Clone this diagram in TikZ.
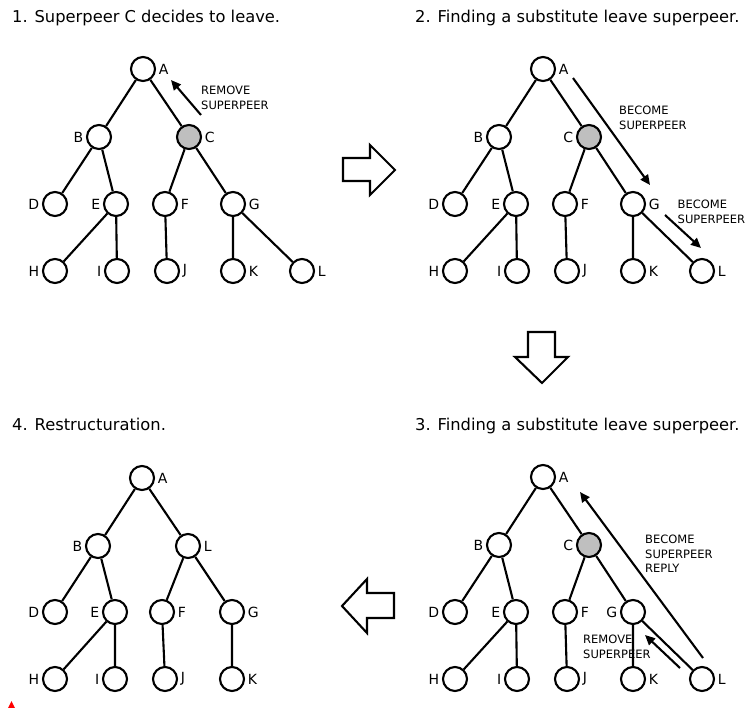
\documentclass[tikz,border=0pt]{standalone}
\usepackage{fontspec}
\setmainfont{DejaVu Sans}
\usetikzlibrary{arrows.meta}
\tikzset{
 peer/.style={circle, draw, line width=2.1pt, minimum size=24pt, inner sep=0pt, fill=white},
 gone/.style={peer, fill=black!25},
 every label/.style={font=\fontsize{14}{16}\selectfont, inner sep=1.5pt},
 label distance=1pt,
 link/.style={line width=2.1pt},
 msg/.style={line width=2.1pt, -{Triangle[length=10pt,width=9pt]}},
 note/.style={font=\fontsize{11.5}{14.5}\selectfont, align=left, anchor=west, inner sep=0pt},
 heading/.style={font=\fontsize{16.3}{19}\selectfont, anchor=base west, inner sep=0pt},
 bigarrow/.style={draw, line width=2.1pt, fill=white, line join=miter},
}
\begin{document}
\begin{tikzpicture}[x={(1pt,0)}, y={(0,-1pt)}]
\useasboundingbox (0,0) rectangle (746,708);

% ---------- Panel 1 ----------
\node[heading] (t1) at (12,23) {1. Superpeer C decides to leave.};
\begin{scope}
\node[peer,label=right:A] (a1) at (143,69) {};
\node[peer,label=left:B] (b1) at (99,137) {};
\node[gone,label=right:C] (c1) at (189,137) {};
\node[peer,label=left:D] (d1) at (55,204) {};
\node[peer,label=left:E] (e1) at (116,204) {};
\node[peer,label=right:F] (f1) at (165,204) {};
\node[peer,label=right:G] (g1) at (233,204) {};
\node[peer,label=left:H] (h1) at (55,271) {};
\node[peer,label=left:I] (i1) at (117,271) {};
\node[peer,label=right:J] (j1) at (167,271) {};
\node[peer,label=right:K] (k1) at (233,271) {};
\node[peer,label=right:L] (l1) at (302,271) {};
\draw[link] (a1)--(b1) (a1)--(c1) (b1)--(d1) (b1)--(e1) (c1)--(f1) (c1)--(g1)
            (e1)--(h1) (e1)--(i1) (f1)--(j1) (g1)--(k1) (g1)--(l1);
\coordinate (m1s) at (201,115);
\coordinate (m1e) at (171,80);
\draw[msg] (m1s) -- (m1e);
\node[note] (n1) at (201,98) {REMOVE\\SUPERPEER};
\end{scope}

% ---------- Panel 2 ----------
\node[heading] (t2) at (415,23) {2. Finding a substitute leave superpeer.};
\begin{scope}[shift={(400,0)}]
\node[peer,label=right:A] (a2) at (143,69) {};
\node[peer,label=left:B] (b2) at (99,137) {};
\node[gone,label=left:C] (c2) at (189,137) {};
\node[peer,label=left:D] (d2) at (55,204) {};
\node[peer,label=left:E] (e2) at (116,204) {};
\node[peer,label=right:F] (f2) at (165,204) {};
\node[peer,label=right:G] (g2) at (233,204) {};
\node[peer,label=left:H] (h2) at (55,271) {};
\node[peer,label=left:I] (i2) at (117,271) {};
\node[peer,label=right:J] (j2) at (167,271) {};
\node[peer,label=right:K] (k2) at (233,271) {};
\node[peer,label=right:L] (l2) at (302,271) {};
\draw[link] (a2)--(b2) (a2)--(c2) (b2)--(d2) (b2)--(e2) (c2)--(f2) (c2)--(g2)
            (e2)--(h2) (e2)--(i2) (f2)--(j2) (g2)--(k2) (g2)--(l2);
\coordinate (m2s) at (173,78);
\coordinate (m2e) at (250,185);
\draw[msg] (m2s) -- (m2e);
\node[note] (n2) at (219,118) {BECOME\\SUPERPEER};
\coordinate (m3s) at (265,215);
\coordinate (m3e) at (301,248);
\draw[msg] (m3s) -- (m3e);
\node[note] (n3) at (277.5,212) {BECOME\\SUPERPEER};
\end{scope}

% ---------- Panel 3 ----------
\node[heading] (t3) at (415,430) {3. Finding a substitute leave superpeer.};
\begin{scope}[shift={(400,408)}]
\node[peer,label=right:A] (a3) at (143,69) {};
\node[peer,label=left:B] (b3) at (99,137) {};
\node[gone,label=left:C] (c3) at (189,137) {};
\node[peer,label=left:D] (d3) at (55,204) {};
\node[peer,label=left:E] (e3) at (116,204) {};
\node[peer,label=right:F] (f3) at (165,204) {};
\node[peer,label=left:G] (g3) at (233,204) {};
\node[peer,label=left:H] (h3) at (55,271) {};
\node[peer,label=left:I] (i3) at (117,271) {};
\node[peer,label=right:J] (j3) at (167,271) {};
\node[peer,label=right:K] (k3) at (233,271) {};
\node[peer,label=right:L] (l3) at (302,271) {};
\draw[link] (a3)--(b3) (a3)--(c3) (b3)--(d3) (b3)--(e3) (c3)--(f3) (c3)--(g3)
            (e3)--(h3) (e3)--(i3) (f3)--(j3) (g3)--(k3) (g3)--(l3);
\coordinate (m4s) at (303,250);
\coordinate (m4e) at (180,84);
\draw[msg] (m4s) -- (m4e);
\node[note] (n4) at (245,146) {BECOME\\SUPERPEER\\REPLY};
\coordinate (m5s) at (280,260);
\coordinate (m5e) at (245,227);
\draw[msg] (m5s) -- (m5e);
\node[note] (n5) at (183,239) {REMOVE\\SUPERPEER};
\end{scope}

% ---------- Panel 4 ----------
\node[heading] (t4) at (12,430) {4. Restructuration.};
\begin{scope}[shift={(0,408)}]
\node[peer,label=right:A] (a4) at (142,70) {};
\node[peer,label=left:B] (b4) at (98,138) {};
\node[peer,label=right:L] (l4) at (188,138) {};
\node[peer,label=left:D] (d4) at (55,204) {};
\node[peer,label=left:E] (e4) at (115,204) {};
\node[peer,label=right:F] (f4) at (162,204) {};
\node[peer,label=right:G] (g4) at (232,204) {};
\node[peer,label=left:H] (h4) at (55,271) {};
\node[peer,label=left:I] (i4) at (115,271) {};
\node[peer,label=right:J] (j4) at (165,271) {};
\node[peer,label=right:K] (k4) at (232,271) {};
\draw[link] (a4)--(b4) (a4)--(l4) (b4)--(d4) (b4)--(e4) (l4)--(f4) (l4)--(g4)
            (e4)--(h4) (e4)--(i4) (f4)--(j4) (g4)--(k4);
\end{scope}

% ---------- Big transition arrows ----------
\draw[bigarrow] (343,158) -- (370,158) -- (370,145) -- (395,170) -- (370,195) -- (370,181) -- (343,181) -- cycle;
\draw[bigarrow] (528,332) -- (555,332) -- (555,357) -- (568,357) -- (542,383) -- (515,357) -- (528,357) -- cycle;
\draw[bigarrow] (394,593) -- (367,593) -- (367,579) -- (342,606) -- (367,633) -- (367,618) -- (394,618) -- cycle;

% small red mark
\fill[red] (11.5,701) -- (15.5,709) -- (7.5,709) -- cycle;
\end{tikzpicture}
\end{document}
